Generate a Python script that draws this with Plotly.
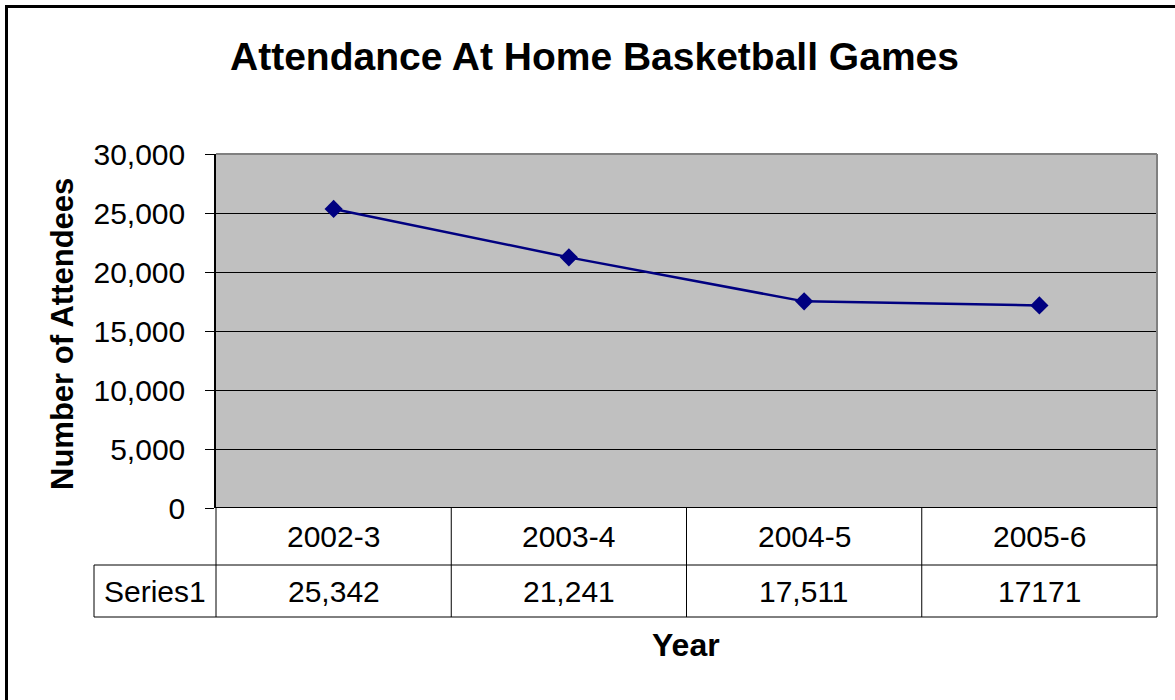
import plotly.graph_objects as go

years = ["2002-3", "2003-4", "2004-5", "2005-6"]
attendance = [25342, 21241, 17511, 17171]
table_labels = ["25,342", "21,241", "17,511", "17171"]
series_name = "Series1"
title_text = "Attendance At Home Basketball Games"
y_title = "Number of Attendees"
x_title = "Year"

FONT = "Arial, Liberation Sans, sans-serif"
W, H = 1175, 700
L, R, T, B = 216, 18, 154, 192
plot_w = W - L - R
plot_h = H - T - B

def px_x(px):
    return (px - L) / plot_w

def px_y(py):
    return (H - B - py) / plot_h

xs = list(range(len(years)))
n = len(years)

fig = go.Figure()
fig.add_trace(go.Scatter(
    x=xs, y=attendance, mode="lines+markers", name=series_name,
    line=dict(color="#000080", width=2.5),
    marker=dict(symbol="diamond", size=14, color="#000080"),
    showlegend=False, hoverinfo="x+y",
))

row1 = px_y(565)
row2 = px_y(617)
left_cell = px_x(94)

def xp(i):
    return (i + 0.5) / n

shapes = []
shapes.append(dict(type="rect", xref="paper", yref="paper",
                   x0=px_x(6.5), y0=-1.0, x1=1.2, y1=px_y(6.5),
                   line=dict(color="black", width=3), layer="above"))
shapes.append(dict(type="line", xref="paper", yref="paper", x0=0, x1=1, y0=1, y1=1,
                   line=dict(color="#808080", width=2)))
shapes.append(dict(type="line", xref="paper", yref="paper", x0=1, x1=1, y0=0, y1=1,
                   line=dict(color="#808080", width=2)))
for i in range(n + 1):
    shapes.append(dict(type="line", xref="paper", yref="paper", x0=xp(i - 0.5), x1=xp(i - 0.5),
                       y0=0, y1=row2, line=dict(color="black", width=1)))
shapes.append(dict(type="line", xref="paper", yref="paper", x0=left_cell, x1=1,
                   y0=row1, y1=row1, line=dict(color="black", width=1)))
shapes.append(dict(type="line", xref="paper", yref="paper", x0=left_cell, x1=1,
                   y0=row2, y1=row2, line=dict(color="black", width=1)))
shapes.append(dict(type="line", xref="paper", yref="paper", x0=left_cell, x1=left_cell,
                   y0=row1, y1=row2, line=dict(color="black", width=1)))

cell_font = dict(family=FONT, size=30, color="black")
annotations = []
for i, (yr, lab) in enumerate(zip(years, table_labels)):
    annotations.append(dict(x=i, y=row1 / 2, xref="x", yref="paper", text=yr,
                            showarrow=False, font=cell_font,
                            xanchor="center", yanchor="middle"))
    annotations.append(dict(x=i, y=(row1 + row2) / 2, xref="x", yref="paper", text=lab,
                            showarrow=False, font=cell_font,
                            xanchor="center", yanchor="middle"))
annotations.append(dict(x=left_cell / 2, y=(row1 + row2) / 2, xref="paper", yref="paper",
                        text=series_name, showarrow=False, font=cell_font,
                        xanchor="center", yanchor="middle"))
annotations.append(dict(x=px_x(686), y=px_y(645), xref="paper", yref="paper",
                        text="<b>%s</b>" % x_title, showarrow=False,
                        font=dict(family=FONT, size=32, color="black"),
                        xanchor="center", yanchor="middle"))
annotations.append(dict(x=px_x(62), y=px_y(334), xref="paper", yref="paper",
                        text="<b>%s</b>" % y_title, showarrow=False, textangle=-90,
                        font=dict(family=FONT, size=31, color="black"),
                        xanchor="center", yanchor="middle"))
annotations.append(dict(x=px_x(594), y=px_y(56), xref="paper", yref="paper",
                        text="<b>%s</b>" % title_text, showarrow=False,
                        font=dict(family=FONT, size=39, color="black"),
                        xanchor="center", yanchor="middle"))

fig.update_layout(
    width=W, height=H, autosize=False,
    margin=dict(l=L, r=R, t=T, b=B, pad=0),
    paper_bgcolor="white", plot_bgcolor="#C0C0C0",
    xaxis=dict(range=[-0.5, n - 0.5], showticklabels=False, showgrid=False,
               zeroline=False, showline=False, ticks="", fixedrange=True),
    yaxis=dict(range=[0, 30000], dtick=5000, tickformat=",", showgrid=True,
               gridcolor="black", gridwidth=1, zeroline=False,
               showline=True, linecolor="black", linewidth=1.5,
               ticks="outside", ticklen=9, tickcolor="black", tickwidth=1,
               ticklabelstandoff=14,
               tickfont=dict(family=FONT, size=30, color="black")),
    shapes=shapes, annotations=annotations,
)
fig.add_hline(y=0, line=dict(color="black", width=2))

fig.write_html("out.html", config={"displayModeBar": False},
               post_script="document.body.style.margin='0px';document.body.style.overflow='hidden';")
